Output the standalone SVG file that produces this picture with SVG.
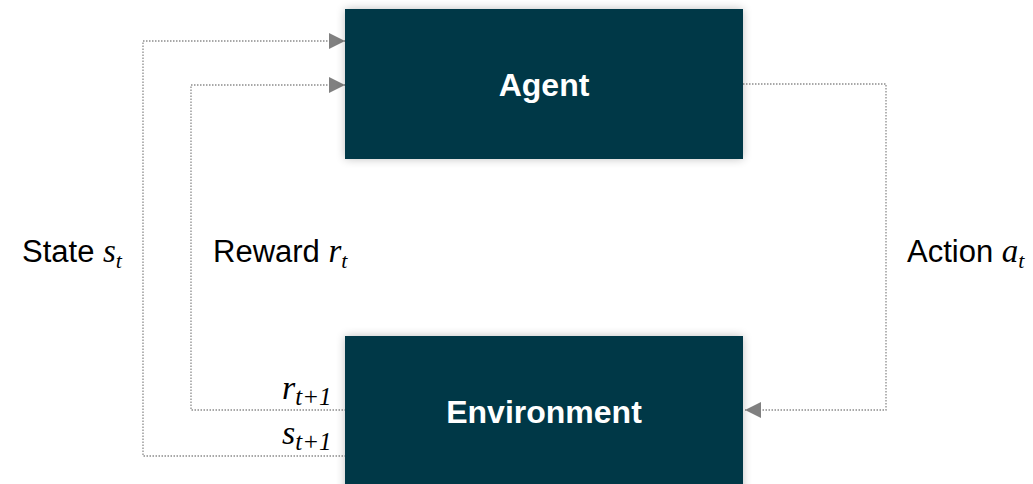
<svg xmlns="http://www.w3.org/2000/svg" width="1033" height="484" viewBox="0 0 1033 484">
<style>
.box{fill:#023746;}
.lbl{font-family:"Liberation Sans",Arial,sans-serif;font-weight:bold;font-size:32px;fill:#fff;text-anchor:middle;}
.t{font-family:"Liberation Sans",Arial,sans-serif;font-size:31px;fill:#000;}
.m{font-family:"Liberation Serif","Times New Roman",serif;font-style:italic;}
.c{fill:none;stroke:#8c8c8c;stroke-width:1.3;stroke-dasharray:1.5 1.5;}
</style>
<defs>
<filter id="sh" x="-10%" y="-20%" width="120%" height="140%">
<feGaussianBlur in="SourceAlpha" stdDeviation="5"/>
<feComponentTransfer><feFuncA type="linear" slope="0.25"/></feComponentTransfer>
<feMerge><feMergeNode/><feMergeNode in="SourceGraphic"/></feMerge>
</filter>
<marker id="ah" viewBox="0 0 10 10" refX="10" refY="5" markerWidth="16" markerHeight="16" markerUnits="userSpaceOnUse" orient="auto">
<path d="M0,0 L10,5 L0,10 Z" fill="#808080"/>
</marker>
</defs>
<g id="connectors">
<path class="c" d="M346,456 H143 V41 H345" marker-end="url(#ah)"/>
<path class="c" d="M346,410 H191 V85 H345" marker-end="url(#ah)"/>
<path class="c" d="M743,84 H886 V410 H745" marker-end="url(#ah)"/>
</g>
<g id="agent">
<rect class="box" x="345" y="9" width="398" height="150" filter="url(#sh)"/>
<text class="lbl" x="544" y="96">Agent</text>
</g>
<g id="environment">
<rect class="box" x="345" y="336" width="398" height="160" filter="url(#sh)"/>
<text class="lbl" x="544" y="423">Environment</text>
</g>
<g id="labels">
<text class="t" x="22" y="262">State <tspan class="m" font-size="33">s</tspan><tspan class="m" font-size="22" dy="6">t</tspan></text>
<text class="t" x="213" y="262">Reward <tspan class="m" font-size="33">r</tspan><tspan class="m" font-size="22" dy="6">t</tspan></text>
<text class="t" x="907" y="262">Action <tspan class="m" font-size="33">a</tspan><tspan class="m" font-size="22" dy="6">t</tspan></text>
<text class="t" x="282" y="399"><tspan class="m" font-size="34">r</tspan><tspan class="m" font-size="25" dy="6">t+1</tspan></text>
<text class="t" x="282" y="444"><tspan class="m" font-size="34">s</tspan><tspan class="m" font-size="25" dy="6">t+1</tspan></text>
</g>
</svg>
